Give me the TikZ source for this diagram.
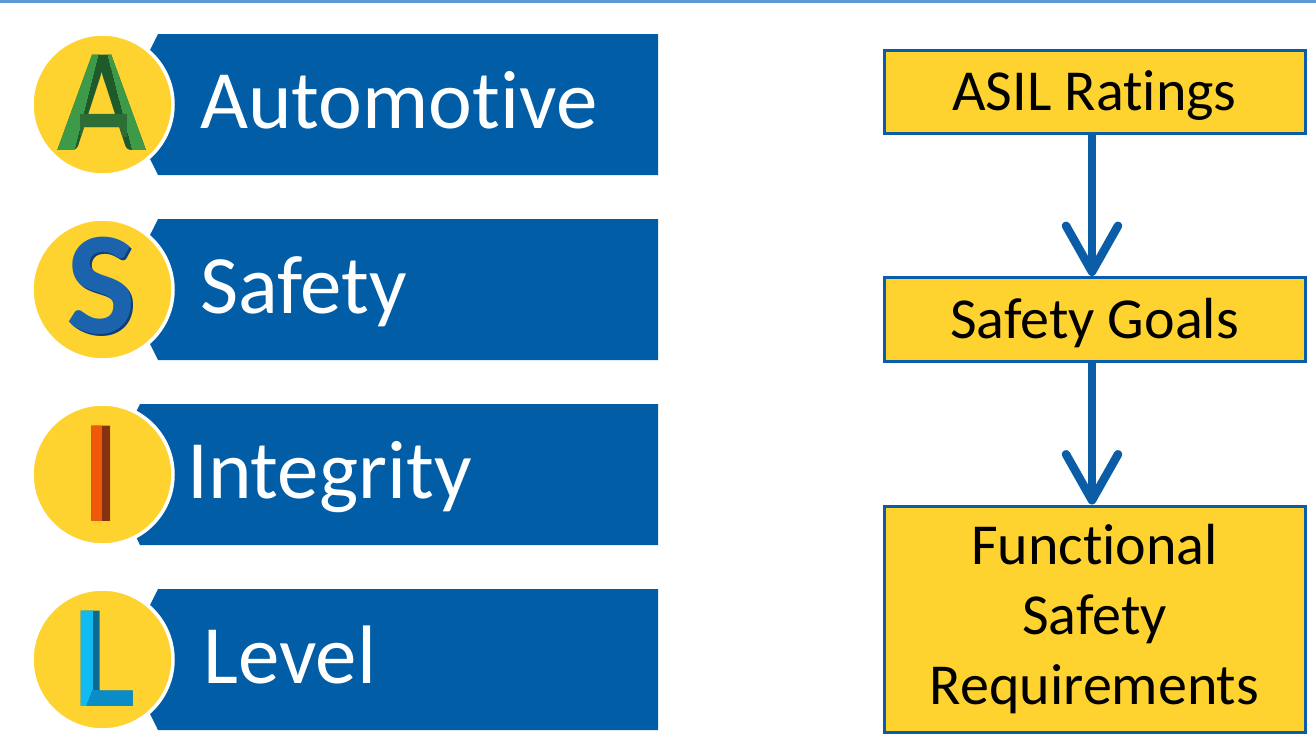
\documentclass[tikz,border=0pt]{standalone}
\usepackage{fontspec}
\setmainfont{Carlito}[Ligatures={NoCommon}]
\usetikzlibrary{arrows.meta}

\definecolor{bannerblue}{HTML}{005DA6}
\definecolor{discyellow}{HTML}{FED330}
\definecolor{rulecol}{HTML}{5B9BD5}
\definecolor{flowblue}{HTML}{0B5DA8}
\definecolor{greenL}{HTML}{3C9A48}
\definecolor{greenM}{HTML}{2D6E37}
\definecolor{greenD}{HTML}{1F5A2B}
\definecolor{blueL}{HTML}{1C63AE}
\definecolor{blueD}{HTML}{0C3E78}
\definecolor{orangeL}{HTML}{EE5A0A}
\definecolor{orangeD}{HTML}{843210}
\definecolor{cyanL}{HTML}{12BAF2}
\definecolor{cyanM}{HTML}{0A8CC6}
\definecolor{cyanD}{HTML}{0A6A90}

\tikzset{
  banner/.style={fill=bannerblue},
  disc/.style={fill=discyellow, draw=white, line width=3.5pt},
  initial/.style={inner sep=0pt, font=\fontsize{147}{150}\selectfont\bfseries},
  word/.style={inner sep=0pt, text=white, font=\fontsize{83}{98}\selectfont},
  flowbox/.style={draw=flowblue, line width=3pt, fill=discyellow, inner sep=0pt,
    minimum width=421pt, align=center, font=\fontsize{58}{70}\selectfont},
  flowarrow/.style={draw=flowblue, line width=8.5pt,
    -{Straight Barb[length=46pt, width=52pt, round]}},
}

\begin{document}
\begin{tikzpicture}[x=1pt, y=-1pt]
\useasboundingbox (0,0) rectangle (1316,748);

% thin rule along the top edge
\fill[rulecol] (0,0) rectangle (1316,2.5);

% --- A : Automotive ---
\fill[banner] (158,34) -- (658,34) -- (658,175) -- (158,175) -- (123,104.5) -- cycle;
\draw[disc] (102.5,104.5) circle (70.5);
% bevelled initial: dark inner faces, bright outer faces, mid-tone bar
\node[initial, text=greenD] (iA) at (102.5,102.5) {A};
\begin{scope}
  \clip (30,36) -- (102.5,36) -- (70,166) -- (30,166) -- cycle
        (102.5,36) -- (180,36) -- (180,166) -- (136,166) -- cycle;
  \node[initial, text=greenL] at (102.5,102.5) {A};
\end{scope}
\begin{scope}
  \clip (80,114) rectangle (126,136);
  \node[initial, text=greenM] at (102.5,102.5) {A};
\end{scope}
\node[word, anchor=base west] (wA) at (200,128) {Automotive};

% --- S : Safety ---
\fill[banner] (158,219) -- (658,219) -- (658,360) -- (158,360) -- (123,289.5) -- cycle;
\draw[disc] (102.5,289.5) circle (70.5);
\node[initial, text=blueD] at (103.5,287.5) {S};
\node[initial, text=blueL] (iS) at (101.5,285.5) {S};
\node[word, anchor=base west] (wS) at (200,313) {Safety};

% --- I : Integrity ---
\fill[banner] (140,404) -- (658,404) -- (658,545) -- (140,545) -- (105,474.5) -- cycle;
\draw[disc] (102.5,474.5) circle (70.5);
\node[initial, text=orangeD] (iI) at (101.5,474) {I};
\begin{scope}
  \clip (60,400) rectangle (101.5,550);
  \node[initial, text=orangeL] at (101.5,474) {I};
\end{scope}
\node[word, anchor=base west] (wI) at (187,498) {Integrity};

% --- L : Level ---
\fill[banner] (158,589) -- (658,589) -- (658,730) -- (158,730) -- (123,659.5) -- cycle;
\draw[disc] (102.5,659.5) circle (70.5);
\node[initial, text=cyanD] (iL) at (104.5,658.5) {L};
\begin{scope}
  \clip (60,590) -- (92,590) -- (92,690) -- (86,705) -- (60,705) -- cycle;
  \node[initial, text=cyanL] at (104.5,658.5) {L};
\end{scope}
\begin{scope}
  \clip (86,705) -- (92,690) -- (150,690) -- (150,712) -- (80,712) -- cycle;
  \node[initial, text=cyanM] at (104.5,658.5) {L};
\end{scope}
\node[word, anchor=base west] (wL) at (203,683) {Level};

% --- flow on the right ---
\node[flowbox, minimum height=83pt, text height=37pt, text depth=0pt] (asil) at (1094.5,91.5) {ASIL Ratings};
\node[flowbox, minimum height=84pt, text height=37pt, text depth=0pt] (goals) at (1094.5,319.5) {Safety Goals};
\node[flowbox, minimum height=226pt] (fsr) at (1094.5,619) {Functional\\Safety\\Requirements};

\draw[flowarrow] ([xshift=-2.5pt]asil.south) -- ([xshift=-2.5pt]goals.north);
\draw[flowarrow] ([xshift=-2.5pt]goals.south) -- ([xshift=-2.5pt]fsr.north);
\end{tikzpicture}
\end{document}
